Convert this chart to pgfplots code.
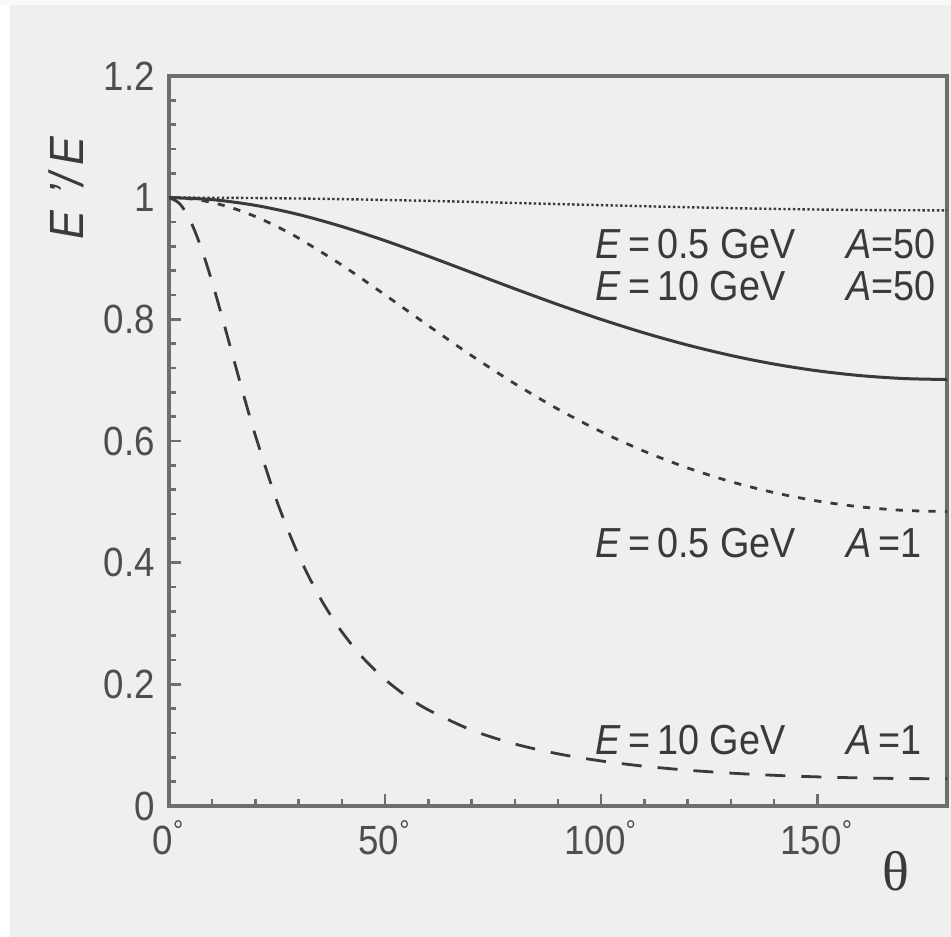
\documentclass[border=0pt]{standalone}
\usepackage{fontspec}
\setmainfont{Liberation Sans}[FakeStretch=0.9]
\newfontfamily\thetafont{Liberation Serif}
\usepackage{pgfplots}
\pgfplotsset{compat=1.18}
\definecolor{paper}{HTML}{EFEFEF}
\definecolor{ink}{HTML}{3A3A3A}
\definecolor{frame}{HTML}{6E6E6E}

\begin{document}
\begin{tikzpicture}
% scanned page background
\fill[paper] (-42.25pt,-32.75pt) rectangle (195.5pt,201.5pt);
\useasboundingbox (-42.25pt,-32.75pt) rectangle (195.5pt,201.5pt);
\fill[white] (-42.25pt,-32.75pt) rectangle (-39.75pt,201.5pt);
\fill[white!60!paper] (-42.25pt,200.25pt) rectangle (195.5pt,201.5pt);
\begin{axis}[
  at={(0,0)}, anchor=south west,
  scale only axis, width=194.5pt, height=182.5pt,
  xmin=0, xmax=180, ymin=0, ymax=1.2,
  xtick={0,50,100,150},
  xticklabels={0\textsuperscript{°},50\textsuperscript{°},100\textsuperscript{°},150\textsuperscript{°}},
  minor x tick num=4,
  ytick={0,0.2,0.4,0.6,0.8,1,1.2},
  yticklabels={0,0.2,0.4,0.6,0.8,1,1.2},
  minor y tick num=4,
  tick pos=left, tick align=inside,
  major tick length=3pt, minor tick length=1.75pt,
  every tick/.style={frame, line width=0.6pt},
  axis line style={frame, line width=1.2pt},
  tick label style={font=\fontsize{10.2}{12}\selectfont, text=ink!90},
]
% E = 0.5 GeV, A = 50
\addplot[ink, line width=0.6pt, dash pattern=on 0.6pt off 0.6pt, smooth] coordinates {
  (0,1) (10,0.99984) (20,0.99936) (30,0.99857) (40,0.99751) (50,0.99621)
  (60,0.99470) (70,0.99303) (80,0.99127) (90,0.98945) (100,0.98764)
  (110,0.98589) (120,0.98426) (130,0.98279) (140,0.98152) (150,0.98049)
  (160,0.97974) (170,0.97928) (180,0.97912)
};
% E = 10 GeV, A = 50
\addplot[ink, line width=0.75pt, smooth] coordinates {
  (0,1) (10,0.99677) (20,0.98730) (30,0.97223) (40,0.95248) (50,0.92922)
  (60,0.90366) (70,0.87697) (80,0.85020) (90,0.82425) (100,0.79984)
  (110,0.77751) (120,0.75768) (130,0.74059) (140,0.72645) (150,0.71537)
  (160,0.70742) (170,0.70264) (180,0.70104)
};
% E = 0.5 GeV, A = 1
\addplot[ink, line width=0.7pt, dash pattern=on 1.8pt off 2.3pt, smooth] coordinates {
  (0,1) (5,0.99798) (10,0.99197) (15,0.98216) (20,0.96886) (25,0.95243)
  (30,0.93334) (40,0.88912) (50,0.84004) (60,0.78956) (70,0.74033)
  (80,0.69421) (90,0.65230) (100,0.61515) (110,0.58297) (120,0.55569)
  (130,0.53313) (140,0.51509) (150,0.50133) (160,0.49166) (170,0.48591)
  (180,0.48400)
};
% E = 10 GeV, A = 1
\addplot[ink, line width=0.7pt, dash pattern=on 5pt off 4pt, smooth] coordinates {
  (0,1) (2.5,0.98995) (5,0.96102) (7.5,0.91642) (10,0.86061) (12.5,0.79830)
  (15,0.73354) (17.5,0.66957) (20,0.60867) (25,0.50029) (30,0.41180)
  (35,0.34153) (40,0.28618) (45,0.24257) (50,0.20797) (55,0.18030)
  (60,0.15797) (70,0.12477) (80,0.10194) (90,0.08576) (100,0.07401)
  (110,0.06533) (120,0.05884) (130,0.05401) (140,0.05043) (150,0.04786)
  (160,0.04613) (170,0.04513) (180,0.04480)
};
\begin{scope}[every node/.style={anchor=west, inner sep=0pt, text=ink, font=\fontsize{10.5}{12}\selectfont}]
\node at (axis cs:98.5,0.924) {\textit{E}\,=\,0.5 GeV};
\node at (axis cs:156.5,0.924) {\textit{A}=50};
\node at (axis cs:98.5,0.855) {\textit{E}\,=\,10 GeV};
\node at (axis cs:156.5,0.855) {\textit{A}=50};
\node at (axis cs:98.5,0.433) {\textit{E}\,=\,0.5 GeV};
\node at (axis cs:156.5,0.433) {\textit{A}\,=1};
\node at (axis cs:98.5,0.109) {\textit{E}\,=\,10 GeV};
\node at (axis cs:156.5,0.109) {\textit{A}\,=1};
\end{scope}
\end{axis}
% axis labels (axis box lower left corner is the origin)
\node[rotate=90, inner sep=0pt, text=ink, font=\fontsize{12}{14}\selectfont]
  at (-25.75pt,154.5pt) {\textit{E\,\,'/\,E}};
\node[inner sep=0pt, text=ink, font=\thetafont\fontsize{14}{16}\selectfont]
  at (181.75pt,-16.25pt) {θ};
\end{tikzpicture}
\end{document}
